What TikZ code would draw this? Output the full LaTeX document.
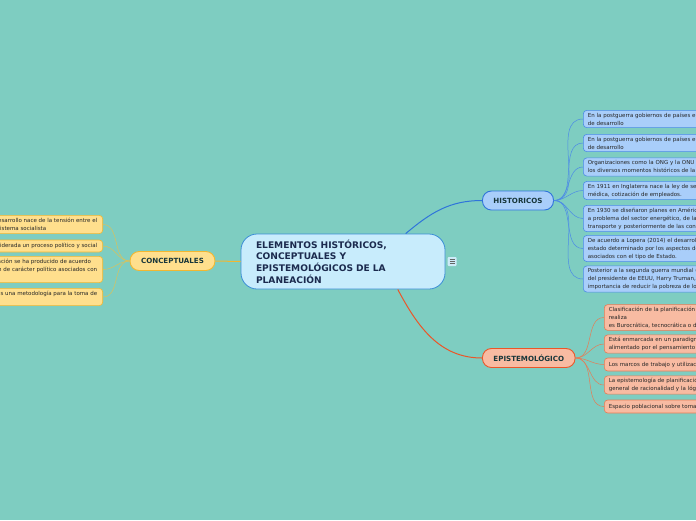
\documentclass[tikz,border=0pt]{standalone}
\usepackage{fontspec}
\setmainfont{DejaVu Sans}
\usetikzlibrary{positioning}

\definecolor{fondo}{HTML}{7ECDC1}
\definecolor{tinta}{HTML}{17363A}
\definecolor{raizfill}{HTML}{C8ECFC}
\definecolor{raizdraw}{HTML}{3B8ED6}
\definecolor{raiztext}{HTML}{1B2A4E}
\definecolor{azulfill}{HTML}{A9CEFA}
\definecolor{azuldraw}{HTML}{2F74DA}
\definecolor{azulhoja}{HTML}{4C8BE6}
\definecolor{rojofill}{HTML}{F8BBA2}
\definecolor{rojodraw}{HTML}{EA5629}
\definecolor{rojohoja}{HTML}{E57C55}
\definecolor{amarfill}{HTML}{FFDF8D}
\definecolor{amardraw}{HTML}{F2B731}
\definecolor{amarhoja}{HTML}{D9C25C}
\definecolor{notafill}{HTML}{CDEBF8}

\tikzset{
  raiz/.style={draw=raizdraw, fill=raizfill, line width=0.8pt, rounded corners=16pt,
    text width=174pt, inner xsep=15pt, minimum height=55pt, align=left, text=raiztext,
    font=\fontsize{9.1}{11.7}\selectfont\bfseries},
  rama/.style={line width=0.9pt, rounded corners=9pt, minimum height=19pt, inner xsep=11pt,
    text=tinta, font=\fontsize{7.1}{8}\selectfont\bfseries},
  hoja/.style={line width=0.6pt, rounded corners=3.5pt, align=left, inner xsep=4.5pt,
    inner ysep=2.4pt, text=black!85, font=\fontsize{5.5}{8}\selectfont},
  enlace/.style={line width=0.5pt}
}

\begin{document}
\begin{tikzpicture}[x=1pt, y=-1pt]
  \useasboundingbox (0,0) rectangle (696,520);
  \fill[fondo] (0,0) rectangle (696,520);
  \clip (0,0) rectangle (696,520);

  % centro
  \node[raiz] (centro) at (343,261.5) {ELEMENTOS HISTÓRICOS,\\CONCEPTUALES Y\\EPISTEMOLÓGICOS DE LA\\PLANEACIÓN};
  \node[fill=notafill, rounded corners=1pt, minimum size=9pt, inner sep=0pt, right=2pt of centro] (nota) {};
  \foreach \d in {-2,0,2}
    \draw[black!60, line width=0.7pt] ([xshift=-2.4pt,yshift=\d pt]nota.center) -- ([xshift=2.4pt,yshift=\d pt]nota.center);

  % ramas
  \node[rama, draw=azuldraw, fill=azulfill, anchor=west] (hist) at (482,200.5) {HISTORICOS};
  \node[rama, draw=rojodraw, fill=rojofill, anchor=west] (epis) at (482,358) {EPISTEMOLÓGICO};
  \node[rama, draw=amardraw, fill=amarfill] (conc) at (172.5,261) {CONCEPTUALES};

  \draw[azuldraw, line width=1pt] (centro.24) to[out=40,in=180] (hist.west);
  \draw[rojodraw, line width=1pt] (centro.-27) to[out=-62,in=180] (epis.west);
  \draw[amardraw, line width=1pt] (centro.west) -- (conc.east);

  % historicos
  \foreach \i/\y/\t in {
    1/119/{En la postguerra gobiernos de países europeos\\de desarrollo},
    2/143/{En la postguerra gobiernos de países europeos\\de desarrollo},
    3/167/{Organizaciones como la ONG y la ONU han\\los diversos momentos históricos de la planeación},
    4/190.5/{En 1911 en Inglaterra nace la ley de seguridad\\médica, cotización de empleados.},
    5/218.5/{En 1930 se diseñaron planes en América\\a problema del sector energético, de la\\transporte y posteriormente de las construcciones},
    6/248.5/{De acuerdo a Lopera (2014) el desarrollo\\estado determinado por los aspectos de\\asociados con el tipo de Estado.},
    7/279/{Posterior a la segunda guerra mundial (\\del presidente de EEUU, Harry Truman,\\importancia de reducir la pobreza de los}} {
    \node[hoja, draw=azulhoja, fill=azulfill, text width=200pt, anchor=west] (h\i) at (583,\y) {\t};
    \draw[enlace, azulhoja] (hist.east) to[out=0,in=180] (h\i.west);
  }

  % epistemologico
  \foreach \i/\y/\t in {
    1/317.5/{Clasificación de la planificación según\\realiza\\es Burocrática, tecnocrática o democrática},
    2/344/{Está enmarcada en un paradigma\\alimentado por el pensamiento},
    3/364.5/{Los marcos de trabajo y utilización},
    4/385/{La epistemología de planificación\\general de racionalidad y la lógica},
    5/406.5/{Espacio poblacional sobre toma}} {
    \node[hoja, draw=rojohoja, fill=rojofill, text width=200pt, minimum height=13pt, anchor=west] (e\i) at (604,\y) {\t};
    \draw[enlace, rojohoja] (epis.east) to[out=0,in=180] (e\i.west);
  }

  % conceptuales
  \foreach \i/\y/\t in {
    1/224.5/{El concepto de desarrollo nace de la tensión entre el\\capitalismo y el sistema socialista},
    2/246/{La planeación es considerada un proceso político y social},
    3/269.5/{La evolución de la planeación se ha producido de acuerdo\\a los cambios de régimen de carácter político asociados con\\el tipo de Estado.},
    4/297/{La planeación es una metodología para la toma de\\decisiones.}} {
    \node[hoja, draw=amardraw, fill=amarfill, inner xsep=5.5pt, minimum height=12pt, anchor=east] (c\i) at (103,\y) {\t};
    \draw[enlace, amarhoja] (conc.west) to[out=180,in=0] (c\i.east);
  }
\end{tikzpicture}
\end{document}
